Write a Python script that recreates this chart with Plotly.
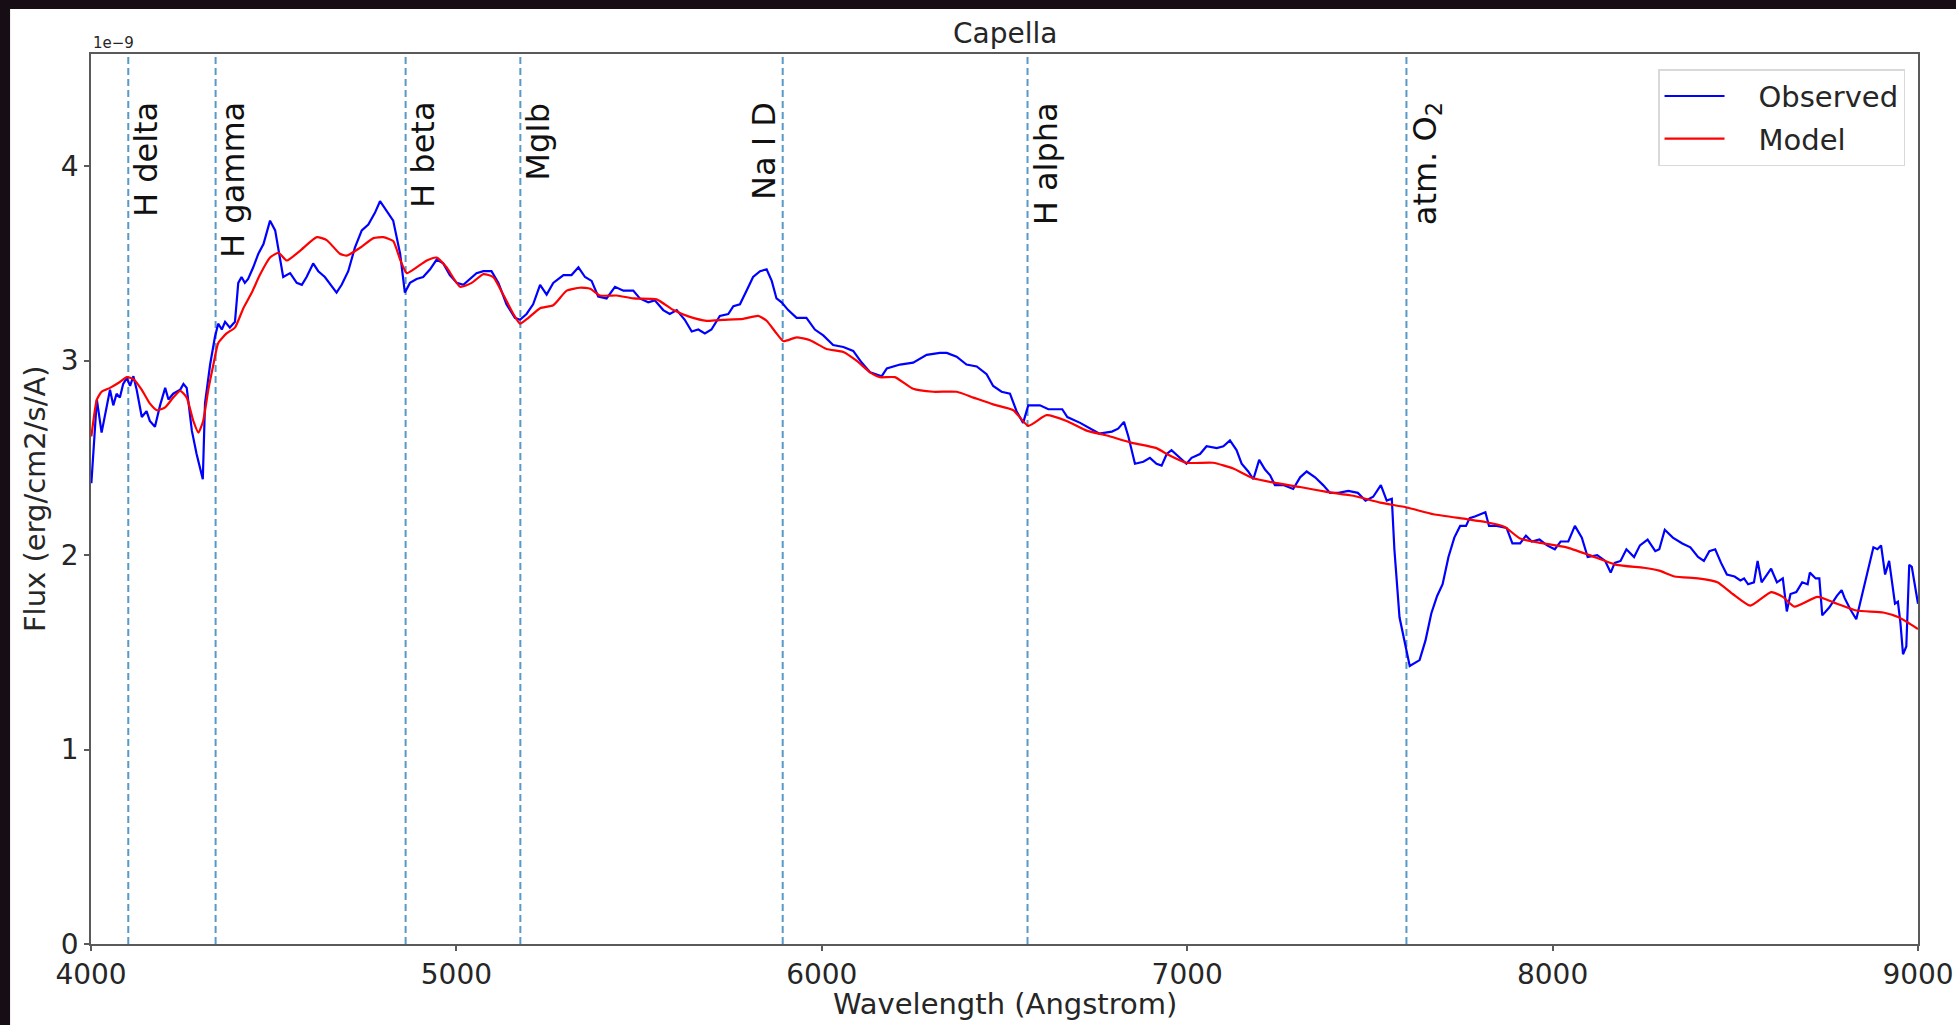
import plotly.graph_objects as go

# Observed spectrum of Capella (flux in units of 1e-9 erg/cm2/s/A)
obs_wl = [4001, 4016, 4029, 4043, 4052, 4061, 4070, 4079, 4088, 4098, 4107, 4116, 4125, 4139, 4152,
          4161, 4175, 4189, 4203, 4212, 4225, 4244, 4253, 4262, 4276, 4289, 4306, 4312, 4326, 4339,
          4348, 4358, 4367, 4380, 4394, 4403, 4412, 4421, 4430, 4444, 4458, 4472, 4490, 4504, 4517,
          4526, 4545, 4563, 4577, 4590, 4608, 4622, 4640, 4659, 4672, 4686, 4704, 4722, 4741, 4759,
          4777, 4791, 4809, 4827, 4846, 4859, 4873, 4891, 4909, 4928, 4946, 4964, 4982, 5001, 5019,
          5037, 5055, 5074, 5096, 5115, 5137, 5160, 5174, 5192, 5210, 5229, 5247, 5265, 5293, 5315,
          5334, 5352, 5370, 5388, 5411, 5434, 5457, 5484, 5502, 5525, 5543, 5566, 5584, 5603, 5625,
          5644, 5662, 5680, 5698, 5721, 5744, 5758, 5776, 5794, 5812, 5831, 5849, 5863, 5876, 5890,
          5908, 5931, 5958, 5981, 6004, 6031, 6059, 6086, 6109, 6132, 6164, 6178, 6214, 6250, 6287,
          6323, 6342, 6369, 6396, 6424, 6451, 6469, 6492, 6515, 6533, 6551, 6565, 6597, 6620, 6658,
          6672, 6707, 6734, 6759, 6794, 6811, 6827, 6839, 6857, 6880, 6898, 6916, 6930, 6944, 6957,
          6980, 6998, 7012, 7035, 7053, 7081, 7099, 7117, 7135, 7149, 7167, 7181, 7197, 7213, 7227,
          7240, 7263, 7290, 7309, 7327, 7350, 7372, 7391, 7414, 7441, 7467, 7488, 7509, 7530, 7546,
          7560, 7567, 7581, 7599, 7609, 7636, 7652, 7668, 7684, 7699, 7715, 7731, 7747, 7763, 7773,
          7789, 7805, 7816, 7826, 7847, 7874, 7890, 7911, 7927, 7943, 7964, 7985, 8006, 8022, 8043,
          8061, 8080, 8096, 8122, 8144, 8159, 8170, 8186, 8202, 8223, 8239, 8260, 8281, 8292, 8307,
          8329, 8355, 8377, 8398, 8414, 8429, 8445, 8461, 8477, 8498, 8514, 8524, 8535, 8551, 8561,
          8572, 8598, 8614, 8630, 8641, 8651, 8667, 8683, 8698, 8704, 8720, 8730, 8738, 8757, 8778,
          8791, 8799, 8815, 8831, 8841, 8862, 8878, 8889, 8899, 8910, 8921, 8937, 8945, 8952, 8959,
          8968, 8976, 8983, 9000]
obs_flux = [2.37, 2.80, 2.63, 2.76, 2.85, 2.77, 2.83, 2.81, 2.88, 2.91, 2.87, 2.92, 2.85, 2.71, 2.74,
            2.69, 2.66, 2.77, 2.86, 2.80, 2.83, 2.85, 2.88, 2.86, 2.64, 2.52, 2.39, 2.78, 2.98, 3.12,
            3.19, 3.16, 3.20, 3.17, 3.20, 3.40, 3.43, 3.40, 3.42, 3.48, 3.55, 3.60, 3.72, 3.67, 3.52,
            3.43, 3.45, 3.40, 3.39, 3.43, 3.50, 3.46, 3.43, 3.38, 3.35, 3.39, 3.46, 3.58, 3.67, 3.70,
            3.76, 3.82, 3.77, 3.72, 3.55, 3.35, 3.40, 3.42, 3.43, 3.47, 3.52, 3.50, 3.44, 3.40, 3.39,
            3.42, 3.45, 3.46, 3.46, 3.40, 3.29, 3.22, 3.21, 3.24, 3.29, 3.39, 3.34, 3.40, 3.44, 3.44,
            3.48, 3.43, 3.41, 3.33, 3.32, 3.38, 3.36, 3.36, 3.32, 3.30, 3.31, 3.26, 3.24, 3.26, 3.21,
            3.15, 3.16, 3.14, 3.16, 3.23, 3.24, 3.28, 3.29, 3.36, 3.43, 3.46, 3.47, 3.41, 3.32, 3.30,
            3.26, 3.22, 3.22, 3.16, 3.13, 3.08, 3.07, 3.05, 2.99, 2.94, 2.92, 2.96, 2.98, 2.99, 3.03,
            3.04, 3.04, 3.02, 2.98, 2.97, 2.93, 2.87, 2.84, 2.83, 2.74, 2.68, 2.77, 2.77, 2.75, 2.75,
            2.71, 2.68, 2.65, 2.625, 2.635, 2.65, 2.685, 2.61, 2.47, 2.48, 2.50, 2.47, 2.46, 2.52, 2.54,
            2.50, 2.47, 2.50, 2.52, 2.56, 2.55, 2.56, 2.59, 2.54, 2.47, 2.43, 2.39, 2.49, 2.44, 2.41,
            2.36, 2.36, 2.34, 2.40, 2.43, 2.40, 2.36, 2.32, 2.32, 2.33, 2.32, 2.28, 2.30, 2.36, 2.28,
            2.29, 2.03, 1.68, 1.53, 1.43, 1.46, 1.56, 1.70, 1.79, 1.85, 1.99, 2.09, 2.15, 2.15, 2.19,
            2.20, 2.21, 2.22, 2.15, 2.15, 2.14, 2.06, 2.06, 2.10, 2.07, 2.08, 2.05, 2.03, 2.07, 2.07,
            2.15, 2.09, 1.99, 2.00, 1.97, 1.91, 1.96, 1.97, 2.03, 1.99, 2.05, 2.08, 2.02, 2.03, 2.13,
            2.09, 2.06, 2.04, 1.99, 1.97, 2.02, 2.03, 1.96, 1.90, 1.89, 1.87, 1.88, 1.85, 1.86, 1.97,
            1.86, 1.93, 1.86, 1.88, 1.71, 1.80, 1.81, 1.86, 1.85, 1.91, 1.88, 1.88, 1.69, 1.73, 1.79,
            1.82, 1.78, 1.72, 1.67, 1.75, 1.91, 2.04, 2.03, 2.05, 1.90, 1.97, 1.75, 1.76, 1.65, 1.49,
            1.53, 1.95, 1.94, 1.75]

# Model spectrum (same units)
mod_wl = [4001, 4016, 4029, 4052, 4079, 4098, 4116, 4139, 4161, 4180, 4203, 4225, 4244, 4262, 4280,
          4294, 4307, 4321, 4335, 4348, 4371, 4394, 4417, 4440, 4462, 4490, 4513, 4536, 4572, 4618,
          4645, 4681, 4700, 4736, 4773, 4800, 4827, 4846, 4864, 4891, 4919, 4946, 4973, 5010, 5042,
          5074, 5101, 5128, 5156, 5174, 5197, 5229, 5265, 5302, 5338, 5366, 5393, 5439, 5484, 5548,
          5594, 5639, 5685, 5730, 5785, 5826, 5849, 5872, 5895, 5931, 5968, 6013, 6059, 6095, 6132,
          6159, 6200, 6250, 6305, 6369, 6415, 6469, 6524, 6565, 6615, 6670, 6725, 6780, 6843, 6916,
          6944, 6998, 7071, 7126, 7181, 7245, 7309, 7382, 7455, 7528, 7601, 7674, 7765, 7816, 7869,
          7911, 7975, 8038, 8101, 8175, 8249, 8292, 8334, 8398, 8451, 8493, 8541, 8598, 8630, 8662,
          8725, 8778, 8831, 8905, 8947, 9000]
mod_flux = [2.61, 2.80, 2.84, 2.86, 2.89, 2.915, 2.905, 2.85, 2.78, 2.745, 2.76, 2.81, 2.845, 2.81, 2.69,
            2.63, 2.69, 2.85, 2.98, 3.09, 3.14, 3.17, 3.27, 3.35, 3.44, 3.53, 3.555, 3.515, 3.565, 3.635,
            3.62, 3.55, 3.54, 3.58, 3.63, 3.635, 3.615, 3.52, 3.45, 3.48, 3.515, 3.53, 3.48, 3.38, 3.40,
            3.445, 3.43, 3.34, 3.24, 3.19, 3.22, 3.27, 3.285, 3.36, 3.375, 3.37, 3.335, 3.335, 3.32, 3.315,
            3.26, 3.225, 3.205, 3.21, 3.215, 3.23, 3.205, 3.15, 3.10, 3.12, 3.105, 3.06, 3.045, 3.00, 2.94,
            2.915, 2.915, 2.855, 2.84, 2.84, 2.81, 2.775, 2.745, 2.665, 2.72, 2.69, 2.64, 2.615, 2.58, 2.55,
            2.52, 2.475, 2.475, 2.445, 2.395, 2.37, 2.35, 2.325, 2.305, 2.27, 2.245, 2.21, 2.185, 2.17, 2.145,
            2.085, 2.06, 2.04, 2.00, 1.95, 1.935, 1.92, 1.89, 1.88, 1.86, 1.80, 1.74, 1.81, 1.785, 1.735,
            1.785, 1.75, 1.715, 1.705, 1.68, 1.62]

# Spectral features marked on the plot; "side" says which side of the line the label sits on
line_names = ["H delta", "H gamma", "H beta", "MgIb", "Na I D", "H alpha", "atm. O<sub>2</sub>"]
line_wl = [4102, 4341, 4861, 5175, 5893, 6563, 7600]
line_side = ["right", "right", "right", "right", "left", "right", "right"]

x_ticks = [4000, 5000, 6000, 7000, 8000, 9000]
y_ticks = [0, 1, 2, 3, 4]

FONT = "DejaVu Sans"
TEXT = "#262626"
SPINE = "#5a5a5a"
PAD = "\u2002\u2002"  # gap between legend line sample and its label

fig = go.Figure()

fig.add_trace(go.Scatter(x=obs_wl, y=obs_flux, mode="lines", name=PAD + "Observed",
                         line=dict(color="#0000ff", width=2.2), legendgroup="a"))
fig.add_trace(go.Scatter(x=mod_wl, y=mod_flux, mode="lines", name=PAD + "Model",
                         line=dict(color="#ff0000", width=2.2, shape="spline", smoothing=0.5),
                         legendgroup="b"))

# white figure canvas sitting on the dark page
fig.add_shape(type="rect", xref="paper", yref="paper", x0=-0.0443, x1=1.03, y0=-0.1, y1=1.0506,
              fillcolor="white", line=dict(width=0), layer="below")

for name, wl, side in zip(line_names, line_wl, line_side):
    fig.add_shape(type="line", xref="x", yref="paper", x0=wl, x1=wl, y0=0, y1=1,
                  line=dict(color="rgba(31,119,180,0.75)", width=2, dash="7px,4px"), layer="below")
    fig.add_annotation(x=wl, y=0.948, xref="x", yref="paper", text=name, showarrow=False,
                       textangle=-90, yanchor="top",
                       xanchor="left" if side == "right" else "right",
                       xshift=-3 if side == "right" else 3,
                       font=dict(family=FONT, size=32, color="#111111"))

# title, axis titles and the exponent marker
fig.add_annotation(x=0.5, y=1.0225, xref="paper", yref="paper", text="Capella", showarrow=False,
                   xanchor="center", yanchor="middle", font=dict(family=FONT, size=28, color=TEXT))
fig.add_annotation(x=0.5, y=-0.0675, xref="paper", yref="paper", text="Wavelength (Angstrom)",
                   showarrow=False, xanchor="center", yanchor="middle",
                   font=dict(family=FONT, size=29, color=TEXT))
fig.add_annotation(x=-0.0306, y=0.5, xref="paper", yref="paper", text="Flux (erg/cm2/s/A)",
                   showarrow=False, textangle=-90, xanchor="center", yanchor="middle",
                   font=dict(family=FONT, size=29, color=TEXT))
fig.add_annotation(x=0, y=1.0124, xref="paper", yref="paper", text="1e\u22129", showarrow=False,
                   xanchor="left", yanchor="middle", font=dict(family=FONT, size=15, color=TEXT))

axis_common = dict(showline=True, mirror=True, linecolor=SPINE, linewidth=1.6, ticks="outside",
                   ticklen=5, tickwidth=1.5, tickcolor=SPINE, showgrid=False, zeroline=False,
                   tickfont=dict(family=FONT, size=28, color=TEXT))

fig.update_xaxes(range=[4000, 9000], tickvals=x_ticks, ticktext=[str(v) for v in x_ticks],
                 **axis_common)
fig.update_yaxes(range=[0, 4.577], tickvals=y_ticks, ticktext=[str(v) for v in y_ticks],
                 **axis_common)

fig.update_layout(
    width=1956, height=1025,
    margin=dict(l=91, r=38, t=54, b=81, autoexpand=False),
    paper_bgcolor="#170d14",
    plot_bgcolor="rgba(0,0,0,0)",
    showlegend=True,
    legend=dict(x=0.9929, y=0.983, xanchor="right", yanchor="top",
                bgcolor="white", bordercolor="#d9d9d9", borderwidth=1.5,
                font=dict(family=FONT, size=29, color=TEXT),
                traceorder="grouped", tracegroupgap=2, itemwidth=60),
)

fig.write_html("out.html")
